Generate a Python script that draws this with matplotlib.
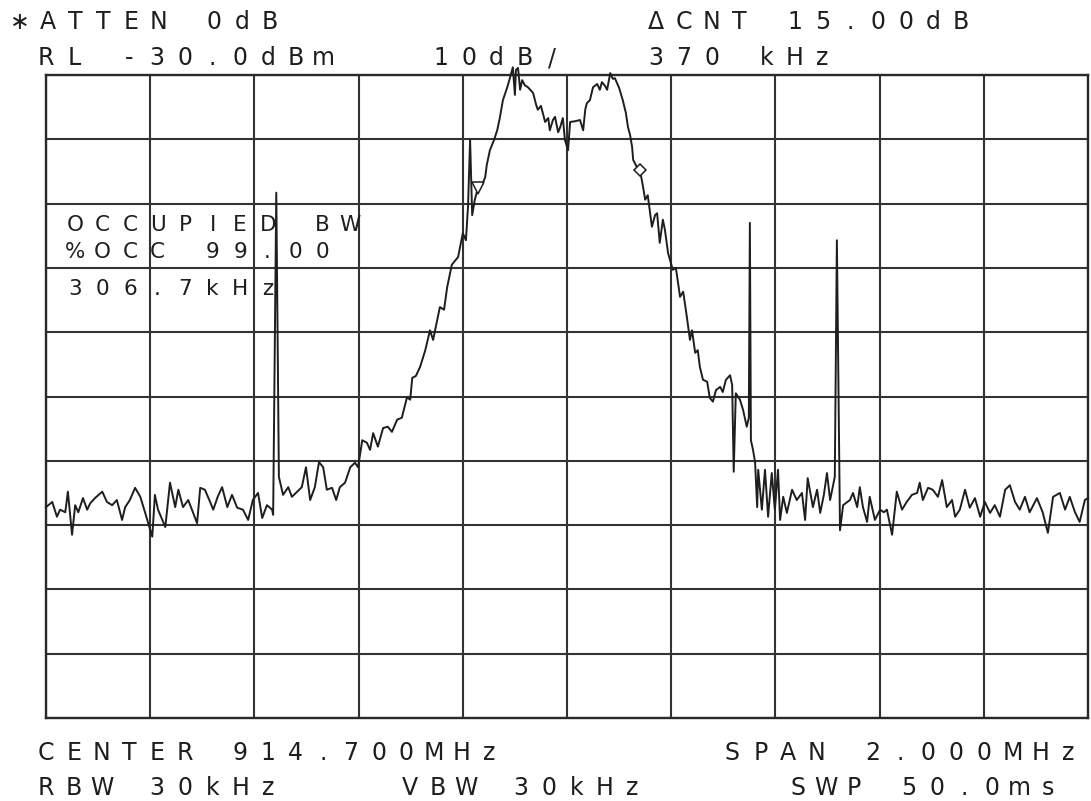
"""Spectrum analyzer plot: occupied bandwidth of a 914.7 MHz carrier."""

import matplotlib

matplotlib.use("Agg")
import matplotlib.pyplot as plt
import numpy as np

W, H = 1091, 801

# Trace: (offset from center in kHz, level in dBm)
left_floor = [
    (-1000, -97.2), (-988, -96.4), (-979, -98.7), (-973, -97.6), (-963, -98.0),
    (-958, -94.8), (-950, -101.5), (-944, -96.9), (-938, -98.0), (-929, -95.8),
    (-921, -97.6), (-915, -96.6), (-906, -95.8), (-892, -94.8), (-883, -96.4),
    (-873, -96.9), (-864, -96.1), (-854, -99.2), (-848, -97.2), (-839, -96.1),
    (-829, -94.2), (-819, -95.6), (-810, -98.0), (-796, -101.8), (-791, -95.3),
    (-785, -97.6), (-771, -100.3), (-762, -93.4), (-752, -97.2), (-746, -94.5),
    (-737, -97.2), (-727, -96.1), (-718, -98.0), (-710, -99.7), (-704, -94.2),
    (-695, -94.5), (-685, -96.4), (-679, -97.6), (-670, -95.5), (-662, -94.1),
    (-652, -97.2), (-643, -95.3), (-633, -97.3), (-622, -97.6), (-612, -99.2),
    (-603, -96.1), (-593, -95.0), (-585, -98.9), (-576, -96.9), (-566, -97.6),
    (-564, -98.4),
]
spur_1 = [(-558, -48.3)]
left_shoulder = [
    (-553, -92.5), (-545, -95.3), (-535, -94.1), (-528, -95.6), (-518, -94.8),
    (-509, -94.1), (-501, -91.0), (-493, -96.1), (-484, -94.1), (-476, -90.2),
    (-468, -91.0), (-461, -94.5), (-451, -94.2), (-443, -96.1), (-436, -94.1),
    (-426, -93.4), (-416, -91.0), (-407, -90.3), (-401, -91.0),
]
rising_edge = [
    (-393, -86.8), (-384, -87.2), (-378, -88.3), (-372, -85.7), (-363, -87.8),
    (-353, -84.9), (-344, -84.7), (-336, -85.5), (-326, -83.6), (-317, -83.3),
    (-307, -80.1), (-301, -80.5), (-297, -77.1), (-290, -76.8), (-282, -75.4),
    (-272, -72.8), (-263, -69.7), (-257, -71.2), (-244, -66.1), (-236, -66.5),
    (-230, -63.0), (-221, -59.5), (-209, -58.3), (-200, -54.6), (-194, -55.7),
    (-190, -50.5), (-186, -40.1), (-182, -51.8), (-177, -49.4), (-171, -47.6),
    (-163, -47.1), (-157, -45.9), (-154, -44.0), (-148, -41.7), (-140, -40.1),
    (-134, -38.6), (-129, -36.7), (-123, -33.9), (-115, -32.0),
]
main_lobe = [
    (-109, -30.3), (-104, -28.8), (-100, -33.1), (-98, -29.2), (-94, -28.9),
    (-90, -32.3), (-86, -30.8), (-81, -31.6), (-75, -31.9), (-65, -32.8),
    (-59, -34.7), (-56, -35.4), (-50, -34.8), (-42, -37.3), (-36, -36.7),
    (-33, -38.6), (-27, -37.0), (-23, -36.5), (-17, -38.9), (-13, -38.1),
    (-8, -36.7), (-4, -40.1), (2, -41.7), (6, -37.3), (15, -37.2),
    (25, -37.0), (31, -38.6), (35, -35.4), (38, -34.4), (44, -33.9),
    (50, -31.9), (58, -31.4), (63, -32.3), (67, -31.1), (73, -31.7),
    (77, -32.3), (83, -29.7), (88, -30.6), (92, -30.5), (100, -32.0),
    (107, -33.9), (113, -35.9), (117, -38.1), (121, -39.3), (125, -41.2),
    (127, -43.2),
]
falling_edge = [
    (134, -44.3), (140, -44.8), (146, -47.4), (150, -49.4), (155, -48.7),
    (163, -53.6), (169, -51.8), (173, -51.5), (178, -56.1), (184, -52.5),
    (188, -54.1), (194, -57.7), (203, -60.3), (209, -60.0), (217, -64.5),
    (223, -63.7), (230, -67.6), (236, -71.2), (240, -69.7), (246, -73.2),
    (251, -72.8), (255, -75.4), (261, -77.4), (269, -77.7), (274, -80.2),
    (280, -80.8), (286, -79.0), (294, -78.5), (299, -79.3), (305, -77.4),
    (313, -76.7), (317, -78.2), (320, -91.7), (324, -79.5), (332, -80.5),
    (338, -82.1), (345, -84.7), (349, -83.3),
]
spur_2 = [(351, -53.0)]
right_shoulder = [
    (353, -86.8), (357, -88.3), (361, -90.2), (365, -97.2), (367, -91.4),
    (374, -97.6), (380, -91.4), (386, -98.7), (393, -91.9), (399, -97.6),
    (405, -91.4), (409, -99.2), (415, -95.6), (422, -98.1), (432, -94.5),
    (441, -96.1), (451, -95.0), (457, -99.2), (462, -92.7), (472, -97.2),
    (480, -94.5), (486, -98.1), (493, -95.3), (499, -91.9), (505, -96.1),
    (514, -92.5),
]
spur_3 = [(518, -55.7)]
right_floor = [
    (524, -100.8), (530, -96.9), (543, -96.1), (549, -95.0), (557, -97.2),
    (562, -94.1), (568, -97.2), (576, -99.5), (581, -95.6), (591, -99.2),
    (601, -97.6), (608, -98.0), (614, -97.6), (624, -101.5), (633, -94.8),
    (643, -97.6), (652, -96.4), (662, -95.3), (672, -95.0), (677, -93.4),
    (683, -96.1), (693, -94.2), (702, -94.5), (712, -95.6), (720, -93.0),
    (729, -97.2), (739, -96.1), (745, -98.7), (754, -97.6), (764, -94.5),
    (773, -97.3), (783, -95.8), (793, -98.7), (802, -96.4), (812, -98.1),
    (821, -96.9), (831, -98.7), (841, -94.5), (850, -93.8), (860, -96.4),
    (869, -97.6), (879, -95.6), (888, -98.0), (902, -95.8), (913, -98.0),
    (923, -101.2), (933, -95.6), (946, -95.0), (956, -97.6), (965, -95.6),
    (975, -98.0), (984, -99.5), (994, -96.1), (1000, -95.8),
]

# Delta markers (kHz, dBm)
marker_lower = (-171, -47.6)
marker_upper = (140, -44.8)

# Screen annotations
top_left = ["\u2217ATTEN 0dB", "RL -30.0dBm"]
top_mid = "10dB/"
top_right = ["\u0394CNT 15.00dB", "370 kHz"]
obw_lines = ["OCCUPIED BW", "%OCC 99.00", "306.7kHz"]
bottom_left = ["CENTER 914.700MHz", "RBW 30kHz"]
bottom_mid = "VBW 30kHz"
bottom_right = ["SPAN 2.000MHz", "SWP 50.0ms"]

ref_level = -30.0
db_per_div = 10
span_khz = 2000

INK = "#1e1e1e"


def plotter_text(fig, x0, base, s, pitch=27.7, size=17):
    """Place characters on a fixed pitch like the HP pen plotter."""
    for i, ch in enumerate(s):
        if ch == " ":
            continue
        fig.text((x0 + pitch * 0.37 + i * pitch) / W, 1 - base / H, ch,
                 ha="center", va="baseline", fontsize=size, color=INK,
                 family="DejaVu Sans")


trace = np.array(left_floor + spur_1 + left_shoulder + rising_edge + main_lobe
                 + falling_edge + spur_2 + right_shoulder + spur_3 + right_floor)

fig = plt.figure(figsize=(W / 100, H / 100), dpi=100)
fig.patch.set_facecolor("white")
ax = fig.add_axes([46 / W, 1 - 718 / H, 1042 / W, 643 / H])

ax.set_xlim(-span_khz / 2, span_khz / 2)
ax.set_ylim(ref_level - 10 * db_per_div, ref_level)
ax.set_xticks(np.arange(-span_khz / 2, span_khz / 2 + 1, span_khz / 10))
ax.set_yticks(np.arange(ref_level - 10 * db_per_div, ref_level + 1, db_per_div))
ax.tick_params(length=0, labelbottom=False, labelleft=False)
ax.grid(True, color="#333333", linewidth=1.5)
for sp in ax.spines.values():
    sp.set_color("#2a2a2a")
    sp.set_linewidth(1.7)

ax.plot(trace[:, 0], trace[:, 1], color=INK, lw=1.4, clip_on=False, zorder=3)
ax.plot(*marker_lower, marker="v", ms=8, mfc="white", mec=INK, mew=1.1, zorder=4)
ax.plot(*marker_upper, marker="D", ms=6, mfc="white", mec=INK, mew=1.1, zorder=4)

plotter_text(fig, 10, 29, top_left[0])
plotter_text(fig, 36, 65, top_left[1])
plotter_text(fig, 431, 65, top_mid)
plotter_text(fig, 646, 29, top_right[0])
plotter_text(fig, 646, 65, top_right[1])

for line, base in zip(obw_lines, [231, 258, 295]):
    plotter_text(fig, 65, base, line, pitch=27.5, size=15.5)

plotter_text(fig, 36, 760, bottom_left[0])
plotter_text(fig, 36, 795, bottom_left[1])
plotter_text(fig, 400, 795, bottom_mid)
plotter_text(fig, 722, 760, bottom_right[0], pitch=28)
plotter_text(fig, 788, 795, bottom_right[1])

fig.savefig("out.png", dpi=100, facecolor="white")
